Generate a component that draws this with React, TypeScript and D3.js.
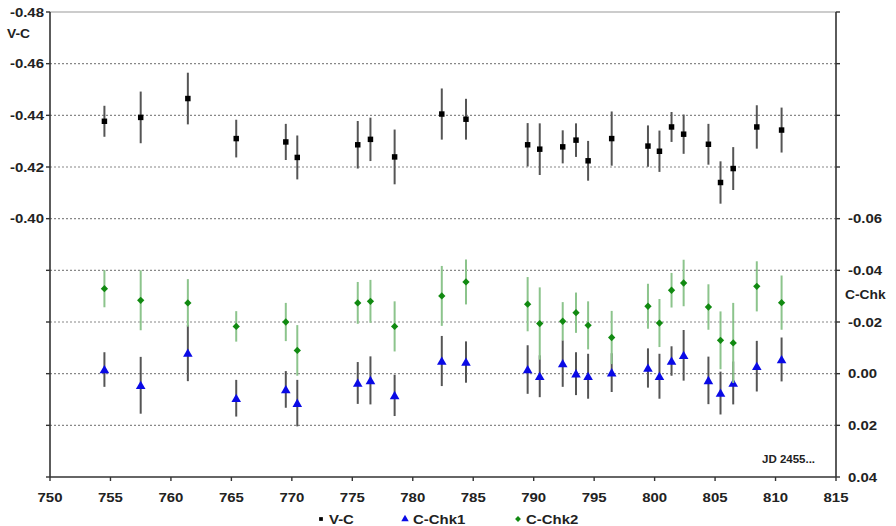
import React from "react";
import * as d3 from "d3";

// Observation dates (JD 2455xxx) and the three differential light curves
const jd = [754.5, 757.5, 761.4, 765.4, 769.5, 770.45, 775.45, 776.5, 778.5, 782.4, 784.4, 789.5, 790.5,
  792.4, 793.5, 794.5, 796.45, 799.45, 800.4, 801.4, 802.4, 804.45, 805.45, 806.5, 808.45, 810.5];

const vc = [-0.4377, -0.4392, -0.4465, -0.431, -0.4297, -0.4237, -0.4286, -0.4307, -0.4239, -0.4405, -0.4385,
  -0.4286, -0.4269, -0.4278, -0.4304, -0.4224, -0.431, -0.4281, -0.4261, -0.4355, -0.4327, -0.4288, -0.414,
  -0.4194, -0.4355, -0.4343];
const vcErr = [0.006, 0.01, 0.01, 0.0073, 0.007, 0.0085, 0.0092, 0.0084, 0.0106, 0.0099, 0.0079, 0.0084, 0.01,
  0.0064, 0.0065, 0.0077, 0.0105, 0.008, 0.008, 0.0058, 0.0076, 0.0079, 0.0082, 0.0083, 0.0084, 0.0087];

const chk1 = [-0.0016, 0.0045, -0.008, 0.0095, 0.0061, 0.0114, 0.0036, 0.0026, 0.0084, -0.0049, -0.0045, -0.0016,
  0.001, -0.0039, 0.0, 0.001, -0.0004, -0.0022, 0.001, -0.0049, -0.0071, 0.0026, 0.0075, 0.0036, -0.0029, -0.0055];
const chk1Err = [0.0067, 0.011, 0.0109, 0.0071, 0.0071, 0.009, 0.0081, 0.0093, 0.008, 0.0097, 0.008, 0.0094, 0.0081,
  0.009, 0.0083, 0.0087, 0.0075, 0.0076, 0.0087, 0.0057, 0.0098, 0.0092, 0.0083, 0.0083, 0.0098, 0.0085];

const chk2 = [-0.0329, -0.0284, -0.0274, -0.0183, -0.02, -0.009, -0.0274, -0.028, -0.0183, -0.0301, -0.0355, -0.0269,
  -0.0194, -0.0203, -0.0236, -0.0187, -0.014, -0.0261, -0.0196, -0.0323, -0.0351, -0.0258, -0.0129, -0.0119,
  -0.0338, -0.0275];
const chk2Err = [0.0072, 0.0116, 0.0092, 0.0059, 0.0074, 0.0098, 0.0081, 0.0083, 0.0097, 0.0116, 0.0087, 0.0105,
  0.014, 0.0074, 0.0078, 0.0093, 0.0103, 0.0087, 0.0093, 0.0067, 0.009, 0.0088, 0.0112, 0.0155, 0.0097, 0.0105];

const xTicks = [750, 755, 760, 765, 770, 775, 780, 785, 790, 795, 800, 805, 810, 815];
const leftTicks = [-0.48, -0.46, -0.44, -0.42, -0.4, -0.38, -0.36, -0.34, -0.32, -0.3];
const leftLabelled = [-0.48, -0.46, -0.44, -0.42, -0.4];
const rightTicks = [-0.14, -0.12, -0.1, -0.08, -0.06, -0.04, -0.02, 0, 0.02, 0.04];
const rightLabelled = [-0.06, -0.04, -0.02, 0, 0.02, 0.04];

const W = 896;
const H = 526;
const plot = { left: 50, right: 836, top: 12, bottom: 477 };
const FONT = "'Liberation Sans', Arial, sans-serif";
const STRETCH = 1.15;

const x = d3.scaleLinear().domain([750, 815]).range([plot.left, plot.right]);
const yL = d3.scaleLinear().domain([-0.48, -0.3]).range([plot.top, plot.bottom]);
const yR = d3.scaleLinear().domain([-0.14, 0.04]).range([plot.top, plot.bottom]);

const fmt = (v: number) => (Math.abs(v) < 1e-9 ? "0.00" : v.toFixed(2));

function Label({ x: tx, y: ty, children, size = 13, anchor = "start", weight = "bold" }: any) {
  return (
    <text
      transform={`translate(${tx},${ty}) scale(${STRETCH},1)`}
      fontFamily={FONT}
      fontSize={size}
      fontWeight={weight}
      fill="#222"
      textAnchor={anchor}
    >
      {children}
    </text>
  );
}

const sq = d3.symbol().type(d3.symbolSquare).size(30);
const tri = d3.symbol().type(d3.symbolTriangle).size(40);
const dia = d3.symbol().type(d3.symbolDiamond2).size(34);

export default function App() {
  const series = [
    { vals: vc, errs: vcErr, y: yL, bar: "#555", fill: "#000", path: sq(), off: 0 },
    { vals: chk1, errs: chk1Err, y: yR, bar: "#555", fill: "#0a0ae6", path: tri(), off: 1 },
    { vals: chk2, errs: chk2Err, y: yR, bar: "#8cc48c", fill: "#118a11", path: dia(), off: 0 },
  ];
  return (
    <svg width={W} height={H} style={{ position: "absolute", left: 0, top: 0, background: "#fff" }}>
      {/* horizontal grid */}
      {leftTicks.slice(1, -1).map((t) => (
        <line key={"g" + t} x1={plot.left} x2={plot.right} y1={yL(t)} y2={yL(t)}
          stroke="#888" strokeWidth={1.2} strokeDasharray="2,2" />
      ))}
      <line x1={plot.left} x2={plot.right} y1={plot.top} y2={plot.top} stroke="#999" strokeWidth={1} />

      {/* axes */}
      <line x1={plot.left} x2={plot.left} y1={plot.top} y2={plot.bottom} stroke="#333" strokeWidth={1.6} />
      <line x1={plot.right} x2={plot.right} y1={plot.top} y2={plot.bottom} stroke="#333" strokeWidth={1.6} />
      <line x1={plot.left} x2={plot.right} y1={plot.bottom} y2={plot.bottom} stroke="#333" strokeWidth={1.6} />

      {leftTicks.map((t) => (
        <line key={"lt" + t} x1={plot.left - 4} x2={plot.left} y1={yL(t)} y2={yL(t)} stroke="#333" strokeWidth={1.4} />
      ))}
      {leftLabelled.map((t) => (
        <Label key={"ll" + t} x={44} y={yL(t) + 4.5} anchor="end">{fmt(t)}</Label>
      ))}
      {rightTicks.map((t) => (
        <line key={"rt" + t} x1={plot.right} x2={plot.right + 4} y1={yR(t)} y2={yR(t)} stroke="#333" strokeWidth={1.4} />
      ))}
      {rightLabelled.map((t) => (
        <Label key={"rl" + t} x={848} y={yR(t) + 4.5}>{fmt(t)}</Label>
      ))}
      {xTicks.map((t) => (
        <g key={"xt" + t}>
          <line x1={x(t)} x2={x(t)} y1={plot.bottom} y2={plot.bottom + 4} stroke="#333" strokeWidth={1.4} />
          <Label x={x(t)} y={501.5} anchor="middle">{String(t)}</Label>
        </g>
      ))}

      <Label x={7} y={38} size={12}>V-C</Label>
      <Label x={845} y={299} size={12}>C-Chk</Label>
      <Label x={762} y={463} size={10}>JD 2455...</Label>

      {/* error bars and markers */}
      {series.map((s, si) => (
        <g key={"s" + si}>
          {s.vals.map((v, i) => (
            <line key={"e" + i} x1={x(jd[i])} x2={x(jd[i])} y1={s.y(v - s.errs[i])} y2={s.y(v + s.errs[i])}
              stroke={s.bar} strokeWidth={2} />
          ))}
          {s.vals.map((v, i) => (
            <path key={"m" + i} d={s.path as string}
              transform={`translate(${x(jd[i])},${s.y(v) + s.off})`} fill={s.fill} />
          ))}
        </g>
      ))}

      {/* legend */}
      <path d={d3.symbol().type(d3.symbolSquare).size(14)() as string} transform="translate(321,519)" fill="#000" />
      <Label x={329} y={523.5}>V-C</Label>
      <path d={d3.symbol().type(d3.symbolTriangle).size(24)() as string} transform="translate(405,519)" fill="#0a0ae6" />
      <Label x={413} y={523.5}>C-Chk1</Label>
      <path d={d3.symbol().type(d3.symbolDiamond2).size(22)() as string} transform="translate(518,519)" fill="#118a11" />
      <Label x={526} y={523.5}>C-Chk2</Label>
    </svg>
  );
}
